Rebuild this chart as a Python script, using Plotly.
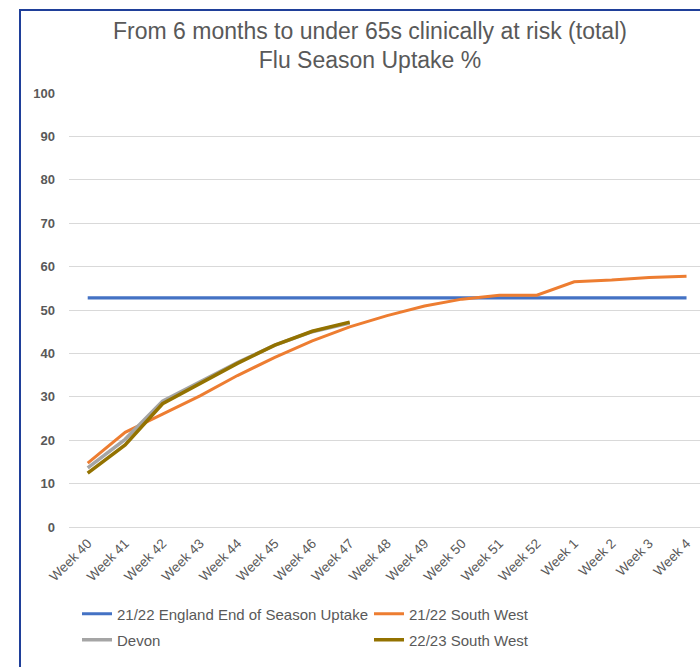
import plotly.graph_objects as go

weeks = ["Week 40", "Week 41", "Week 42", "Week 43", "Week 44", "Week 45", "Week 46",
         "Week 47", "Week 48", "Week 49", "Week 50", "Week 51", "Week 52", "Week 1",
         "Week 2", "Week 3", "Week 4"]
england_end = [52.8] * len(weeks)
sw_2122 = [14.7, 21.8, 26.0, 30.2, 34.9, 39.1, 42.9, 46.1, 48.7, 50.9, 52.5, 53.4, 53.4,
           56.5, 56.9, 57.5, 57.8]
devon = [13.6, 20.2, 29.0, 33.4, 37.9, 41.9, 45.0, 47.0]
sw_2223 = [12.4, 18.9, 28.4, 33.0, 37.7, 41.9, 45.1, 47.2]

fig = go.Figure()
fig.add_trace(go.Scatter(x=weeks, y=england_end, mode="lines",
                         name="21/22 England End of Season Uptake", legend="legend",
                         line=dict(color="#4472C4", width=3.2)))
fig.add_trace(go.Scatter(x=weeks, y=sw_2122, mode="lines", name="21/22 South West",
                         legend="legend", line=dict(color="#ED7D31", width=3)))
fig.add_trace(go.Scatter(x=weeks[:len(devon)], y=devon, mode="lines", name="Devon",
                         legend="legend2", line=dict(color="#A5A5A5", width=3.5)))
fig.add_trace(go.Scatter(x=weeks[:len(sw_2223)], y=sw_2223, mode="lines", name="22/23 South West",
                         legend="legend2", line=dict(color="#937200", width=3.5)))

L, T, B = 69, 93, 140
W, H = 700, 667
pw = W - L
ph = H - T - B
base = H - B  # pixel y of the x axis


def px_x(x):
    return (x - L) / pw


def px_y(y):
    return (base - y) / ph


fig.add_shape(type="path", xref="paper", yref="paper",
              path=f"M {px_x(20)} {px_y(H + 5)} L {px_x(20)} {px_y(10)} L {px_x(W + 5)} {px_y(10)}",
              line=dict(color="#1F3F99", width=2))

legend_common = dict(orientation="h", xanchor="left", yanchor="middle",
                     entrywidth=247, entrywidthmode="pixels",
                     font=dict(size=15, color="#595959"), bgcolor="rgba(0,0,0,0)")

fig.update_layout(
    width=W, height=H,
    margin=dict(l=L, r=0, t=T, b=B, pad=0),
    paper_bgcolor="white", plot_bgcolor="white",
    font=dict(family="Liberation Sans, Arial, sans-serif", color="#595959"),
    title=dict(text="From 6 months to under 65s clinically at risk (total)<br>Flu Season Uptake %",
               x=370 / W, xanchor="center", y=1 - 38.5 / H, yanchor="middle",
               font=dict(size=23, color="#595959")),
    xaxis=dict(type="category", range=[-0.5, 16.36], tickangle=-45, showgrid=False,
               showline=False, ticks="", ticklabelstandoff=5,
               tickfont=dict(size=13.5, color="#595959")),
    yaxis=dict(range=[0, 100], dtick=10, showgrid=True, gridcolor="#D9D9D9", gridwidth=1,
               zeroline=True, zerolinecolor="#D9D9D9", zerolinewidth=1, showline=False,
               ticks="", ticklabelstandoff=13,
               tickfont=dict(size=13, color="#595959", weight="bold")),
    legend=dict(x=px_x(77), y=px_y(614), **legend_common),
    legend2=dict(x=px_x(77), y=px_y(640), **legend_common),
    showlegend=True,
)

fig.write_html("out.html", config={"displayModeBar": False},
               post_script="document.body.style.margin='0';document.body.style.overflow='hidden';")
